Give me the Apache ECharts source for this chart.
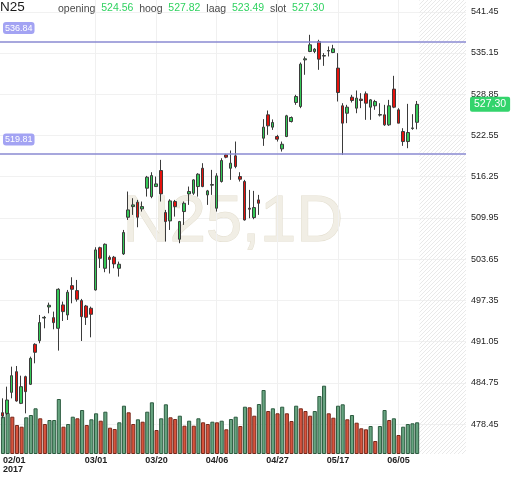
<!DOCTYPE html>
<html><head><meta charset="utf-8">
<script src="https://cdn.jsdelivr.net/npm/echarts@6/dist/echarts.min.js"></script>
<style>html,body{margin:0;padding:0;background:#fff}#c{width:512px;height:477px}</style>
</head><body><div id="c"></div>
<script>
const symbolName = 'N25';
const timeframe = '1D';
const yearLabel = '2017';
const categories = [
 '02/01','02/02','02/03','02/06','02/07','02/08','02/09','02/10','02/13','02/14','02/15','02/16','02/17','02/20','02/21','02/22','02/23','02/24','02/27','02/28',
 '03/01','03/02','03/03','03/06','03/07','03/08','03/09','03/10','03/13','03/14','03/15','03/16','03/17','03/20','03/21','03/22','03/23','03/24','03/27','03/28','03/29','03/30','03/31',
 '04/03','04/04','04/05','04/06','04/07','04/10','04/11','04/12','04/13','04/18','04/19','04/20','04/21','04/24','04/25','04/26','04/27','04/28',
 '05/02','05/03','05/04','05/05','05/08','05/09','05/10','05/11','05/12','05/15','05/16','05/17','05/18','05/19','05/22','05/23','05/24','05/25','05/26','05/29','05/30','05/31',
 '06/01','06/02','06/05','06/06','06/07','06/08','06/09'];
const futureSlots = 10;
const opens = [480.18,480.08,483.29,486.45,481.61,485.69,484.52,490.63,491.19,494.65,
 496.34,494.71,493.08,496.65,495.12,499.60,498.84,497.31,496.49,496.14,
 498.94,505.40,502.25,503.92,503.94,502.25,504.45,510.05,511.68,512.35,
 511.33,514.49,513.21,514.74,517.19,510.77,509.49,512.45,506.69,510.92,
 513.62,513.72,514.74,517.54,513.47,514.95,511.43,515.51,519.58,517.54,
 519.43,516.27,515.51,511.43,510.00,512.70,522.13,525.70,523.82,522.39,
 520.50,522.39,524.68,527.59,526.97,534.10,535.38,535.38,536.91,534.68,
 535.45,535.23,532.84,527.08,525.95,528.40,526.72,528.10,528.91,526.87,
 527.08,525.66,525.70,524.17,529.63,526.46,523.15,521.62,523.62,524.56];
const closes = [479.67,482.12,485.84,481.97,484.16,483.40,488.49,489.41,493.95,494.75,
 496.60,493.95,499.04,495.63,498.59,499.04,497.51,494.86,494.76,495.22,
 505.06,503.78,505.92,503.60,502.92,502.87,507.71,511.17,511.94,510.05,
 511.68,516.17,516.42,515.15,513.62,509.39,512.55,511.68,509.39,512.19,
 513.98,515.76,516.63,514.74,514.08,515.05,516.37,518.72,519.23,518.31,
 517.80,515.86,509.64,511.28,511.53,512.19,523.82,524.02,524.53,521.98,
 521.21,525.55,525.29,528.50,533.45,534.26,536.40,535.74,534.21,534.76,
 535.53,535.79,529.11,524.43,526.87,527.89,528.25,527.89,527.48,527.99,
 527.74,525.74,524.17,527.08,526.87,524.43,521.62,523.00,523.70,527.30];
const lows = [479.32,479.83,482.38,481.87,481.50,480.08,484.41,487.73,490.79,493.08,
 495.37,492.93,489.67,494.20,494.35,496.90,497.16,491.14,493.59,491.70,
 498.84,502.30,501.65,501.45,502.25,500.98,504.29,509.64,510.41,508.52,
 510.92,513.21,512.96,514.74,512.45,506.33,508.11,510.15,506.08,508.88,
 511.94,513.47,513.21,514.64,511.94,513.47,510.92,515.35,519.07,515.76,
 517.54,515.51,509.54,509.90,509.75,510.41,520.96,522.64,523.40,521.62,
 520.09,522.29,524.53,527.23,526.72,531.82,535.28,535.13,532.58,533.19,
 534.62,535.13,527.74,519.58,524.43,527.59,525.95,526.72,524.94,524.94,
 526.47,525.45,524.02,524.02,526.72,524.43,520.96,520.60,523.41,523.49];
const highs = [482.38,484.16,487.22,487.32,485.84,485.84,488.75,490.79,495.12,494.97,
 497.00,495.63,499.20,497.16,498.94,500.88,500.47,497.57,496.65,496.39,
 505.47,505.55,506.05,504.20,504.14,503.27,508.11,513.98,512.96,512.70,
 512.45,516.37,516.93,516.27,518.82,511.17,512.80,512.70,509.49,512.45,
 514.74,515.86,516.78,518.31,514.23,517.29,516.78,519.07,519.74,520.25,
 521.62,516.93,515.76,514.23,514.08,513.47,525.04,526.36,525.00,522.64,
 521.62,525.70,525.45,528.76,533.70,534.62,537.93,535.89,537.17,535.13,
 536.15,536.40,535.13,527.48,527.23,528.76,529.42,529.01,529.27,528.10,
 527.99,527.48,527.23,527.99,531.66,526.72,523.66,527.38,525.80,527.82];
const volumes = [37.3,41,37.3,29,27.3,36.7,39,45.7,35.7,30,
 34,34,55,27.3,30,37.3,35.7,44,29,34.7,
 40.7,33.3,42.3,26.3,25,31.7,48.3,41.7,30,34.7,
 32.3,42.3,51.7,24,35.7,49.7,36.7,35,38.3,28.3,
 33.3,28.3,35.7,31.7,30,32.3,31.7,33.3,24.7,35,
 37.3,28,47.3,46.7,38.3,50,64,43,45.7,40.7,
 47.3,40.7,33,48.3,45.7,43,38.3,43,58,68.3,
 40.7,36.3,48.3,49.7,34.7,39,31.3,25.7,24.7,28,
 13,28,44,34,35.7,19,27.3,30,30.7,31.7];
const volumeUp = [1,1,0,0,0,1,1,1,0,0,
 1,1,1,0,1,1,0,1,0,1,
 1,0,1,0,0,1,1,0,0,1,
 0,1,1,0,1,1,0,0,1,0,
 1,0,1,0,0,1,0,1,0,1,
 1,0,1,0,0,1,1,0,1,0,
 1,0,0,1,0,0,0,1,1,1,
 0,0,1,1,0,1,0,0,0,1,
 0,1,1,0,1,0,1,1,1,1];
const xTickLabels = ['02/01','03/01','03/20','04/06','04/27','05/17','06/05'];
const yTickLabels = [478.45,484.75,491.05,497.35,503.65,509.95,516.25,522.55,528.85,535.15,541.45];
const resistance = 536.84;
const support = 519.81;
const yMin = 473.87, yMax = 543.25;

const fmt = v => v.toFixed(2);
const last = categories.length - 1;
const allCats = categories.concat(Array.from({length: futureSlots}, (_, k) => 'f' + k));
const ohlc = opens.map((o, i) => [o, closes[i], lows[i], highs[i]]);

function makeHatch() {
  const c = document.createElement('canvas');
  c.width = 4; c.height = 4;
  const g = c.getContext('2d');
  g.strokeStyle = '#e9e9e9'; g.lineWidth = 1;
  g.beginPath();
  g.moveTo(0, 4); g.lineTo(4, 0);
  g.moveTo(-1, 1); g.lineTo(1, -1);
  g.moveTo(3, 5); g.lineTo(5, 3);
  g.stroke();
  return c;
}
const hatch = makeHatch();
const FONT = "'Liberation Sans', Arial, sans-serif";

const chart = echarts.init(document.getElementById('c'));
chart.setOption({
  animation: false,
  backgroundColor: '#fff',
  textStyle: { fontFamily: FONT },
  title: [
    { text: symbolName, left: 0, top: 0, padding: 0,
      textStyle: { fontSize: 13.5, fontWeight: 'normal', color: '#1a1a1a', fontFamily: FONT } },
    { text: `{l|opening}  {v|${fmt(opens[last])}}  {l|hoog}  {v|${fmt(highs[last])}}  {l|laag}  {v|${fmt(lows[last])}}  {l|slot}  {v|${fmt(closes[last])}}`,
      left: 58, top: 1, padding: 0,
      textStyle: { fontSize: 10.5, fontWeight: 'normal', color: '#4a4a4a', fontFamily: FONT,
        rich: { l: { fontSize: 10.5, color: '#4a4a4a', fontFamily: FONT, padding: [3, 0, 0, 0] },
                v: { fontSize: 10.5, color: '#2fd260', fontFamily: FONT } } } }
  ],
  graphic: [{
    type: 'text', x: 233, y: 223, z: 1, silent: true,
    style: { text: symbolName + ',' + timeframe, textAlign: 'center', textVerticalAlign: 'middle',
      fontSize: 65, fontFamily: FONT, fill: '#f1eee5', stroke: '#e3decf', lineWidth: 1 }
  }],
  grid: [
    { left: 0, right: 46, top: 0, bottom: 23 },
    { left: 0, right: 46, bottom: 23, height: 100 }
  ],
  xAxis: [
    { type: 'category', gridIndex: 0, data: allCats, boundaryGap: true,
      axisLine: { show: false }, axisTick: { show: false }, axisLabel: { show: false }, splitLine: { show: false } },
    { type: 'category', gridIndex: 1, data: allCats, boundaryGap: true,
      axisLine: { show: false }, axisTick: { show: false }, splitLine: { show: false },
      axisLabel: { interval: (i, v) => xTickLabels.includes(v),
        formatter: (v, i) => i === 0 ? v + '\n' + yearLabel : v,
        fontSize: 9, fontWeight: 'bold', color: '#222', margin: 2, lineHeight: 9, alignMinLabel: 'left' } }
  ],
  yAxis: [
    { type: 'value', gridIndex: 0, position: 'right', min: yMin, max: yMax,
      axisLine: { show: false }, axisTick: { show: false, customValues: yTickLabels },
      axisLabel: { customValues: yTickLabels, formatter: v => fmt(v), fontSize: 9, color: '#222', margin: 5 },
      splitLine: { show: true, lineStyle: { color: '#f1f1f1', width: 1 } } },
    { type: 'value', gridIndex: 1, min: 0, max: 100, show: false }
  ],
  series: [
    { type: 'custom', name: 'future', xAxisIndex: 0, yAxisIndex: 0, z: 1, silent: true, clip: false,
      data: [[categories.length, allCats.length - 1, yMin]], encode: { x: [0, 1], y: 2 },
      renderItem: (params, api) => {
        const cs = params.coordSys;
        const band = api.size([1, 0])[0];
        const x0 = api.coord([api.value(0), yMin])[0] - band / 2;
        const x1 = api.coord([api.value(1), yMin])[0] + band / 2;
        return { type: 'rect', shape: { x: x0, y: cs.y, width: x1 - x0, height: cs.height },
          style: { fill: { image: hatch, repeat: 'repeat' } } };
      },
      markLine: { silent: true, symbol: 'none', z: 1, label: { show: false },
        lineStyle: { color: '#f0f0f0', type: 'solid', width: 1 },
        data: xTickLabels.slice(1).map(v => ({ xAxis: v })) } },
    { type: 'bar', name: 'volume', xAxisIndex: 1, yAxisIndex: 1, z: 2, barWidth: '88%',
      data: volumes.map((v, i) => ({ value: v, itemStyle: volumeUp[i]
        ? { color: '#67a480', borderColor: '#2d5c40', borderWidth: 1 }
        : { color: '#d7543e', borderColor: '#77291b', borderWidth: 1 } })) },
    { type: 'candlestick', name: symbolName, xAxisIndex: 0, yAxisIndex: 0, z: 3, barWidth: '66%',
      data: ohlc,
      itemStyle: { color: '#35c958', color0: '#e5120d', borderColor: '#3b3b3b', borderColor0: '#3b3b3b', borderWidth: 1 },
      markLine: { silent: true, symbol: 'none',
        data: [
          { yAxis: resistance, lineStyle: { color: '#8a8ad2', width: 1.5, type: 'solid' },
            label: { show: true, position: 'insideStartTop', distance: [3, 8], formatter: fmt(resistance),
              color: '#fff', fontSize: 9, backgroundColor: '#a3a3f3', borderRadius: 3, padding: [2, 2, 1, 2] } },
          { yAxis: support, lineStyle: { color: '#8a8ad2', width: 1.5, type: 'solid' },
            label: { show: true, position: 'insideStartTop', distance: [3, 8], formatter: fmt(support),
              color: '#fff', fontSize: 9, backgroundColor: '#a3a3f3', borderRadius: 3, padding: [2, 2, 1, 2] } },
          { yAxis: closes[last], lineStyle: { color: 'transparent', width: 0 },
            label: { show: true, position: 'end', distance: 4, formatter: fmt(closes[last]),
              color: '#fff', fontSize: 10.5, backgroundColor: '#33d46c', borderRadius: 2, padding: [2, 4, 2, 4] } }
        ] } }
  ]
});
</script></body></html>
